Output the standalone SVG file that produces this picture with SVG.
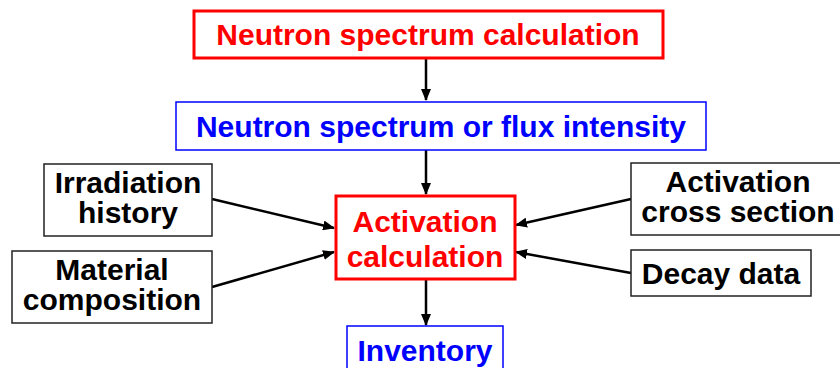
<svg xmlns="http://www.w3.org/2000/svg" width="840" height="368" viewBox="0 0 840 368">
<defs>
<marker id="ah" markerWidth="12" markerHeight="10" refX="11" refY="5" orient="auto" markerUnits="userSpaceOnUse">
<path d="M0,0 L12,5 L0,10 Z" fill="#000"/>
</marker>
<style>
text{font-family:"Liberation Sans",Arial,sans-serif;font-weight:bold;font-size:30px;text-anchor:middle}
.red rect{fill:#fff;stroke:#ff0000;stroke-width:3}
.red text{fill:#ff0000}
.blue rect{fill:#fff;stroke:#0000ff;stroke-width:1.5}
.blue text{fill:#0000ff}
.blk rect{fill:#fff;stroke:#222;stroke-width:1.5}
.blk text{fill:#000}
.conn line{stroke:#000;stroke-width:2.5;marker-end:url(#ah)}
</style>
</defs>
<rect width="840" height="368" fill="#fff"/>
<g class="conn" id="connectors">
<line x1="426" y1="58" x2="426" y2="100"/>
<line x1="426" y1="150" x2="426" y2="194"/>
<line x1="426" y1="280" x2="426" y2="325"/>
<line x1="212" y1="199" x2="334" y2="228"/>
<line x1="212" y1="287" x2="334" y2="252"/>
<line x1="631" y1="199" x2="516" y2="225"/>
<line x1="631" y1="273" x2="516" y2="252"/>
</g>
<g id="n1" class="red"><rect x="194" y="11" width="469" height="47"/><text x="428" y="45">Neutron spectrum calculation</text></g>
<g id="n2" class="blue"><rect x="176" y="102" width="530" height="48"/><text x="441" y="137">Neutron spectrum or flux intensity</text></g>
<g id="n3" class="red"><rect x="336" y="196" width="179" height="83"/><text x="425" y="232">Activation</text><text x="425" y="267">calculation</text></g>
<g id="n4" class="blk"><rect x="44" y="164" width="168" height="72"/><text x="128" y="193">Irradiation</text><text x="128" y="223">history</text></g>
<g id="n5" class="blk"><rect x="12" y="251" width="200" height="72"/><text x="112" y="280">Material</text><text x="112" y="310">composition</text></g>
<g id="n6" class="blk"><rect x="631" y="163" width="215" height="72"/><text x="738" y="192">Activation</text><text x="738" y="222">cross section</text></g>
<g id="n7" class="blk"><rect x="631" y="250" width="180" height="46"/><text x="721" y="284">Decay data</text></g>
<g id="n8" class="blue"><rect x="347" y="326" width="156" height="50"/><text x="425" y="361">Inventory</text></g>
</svg>
